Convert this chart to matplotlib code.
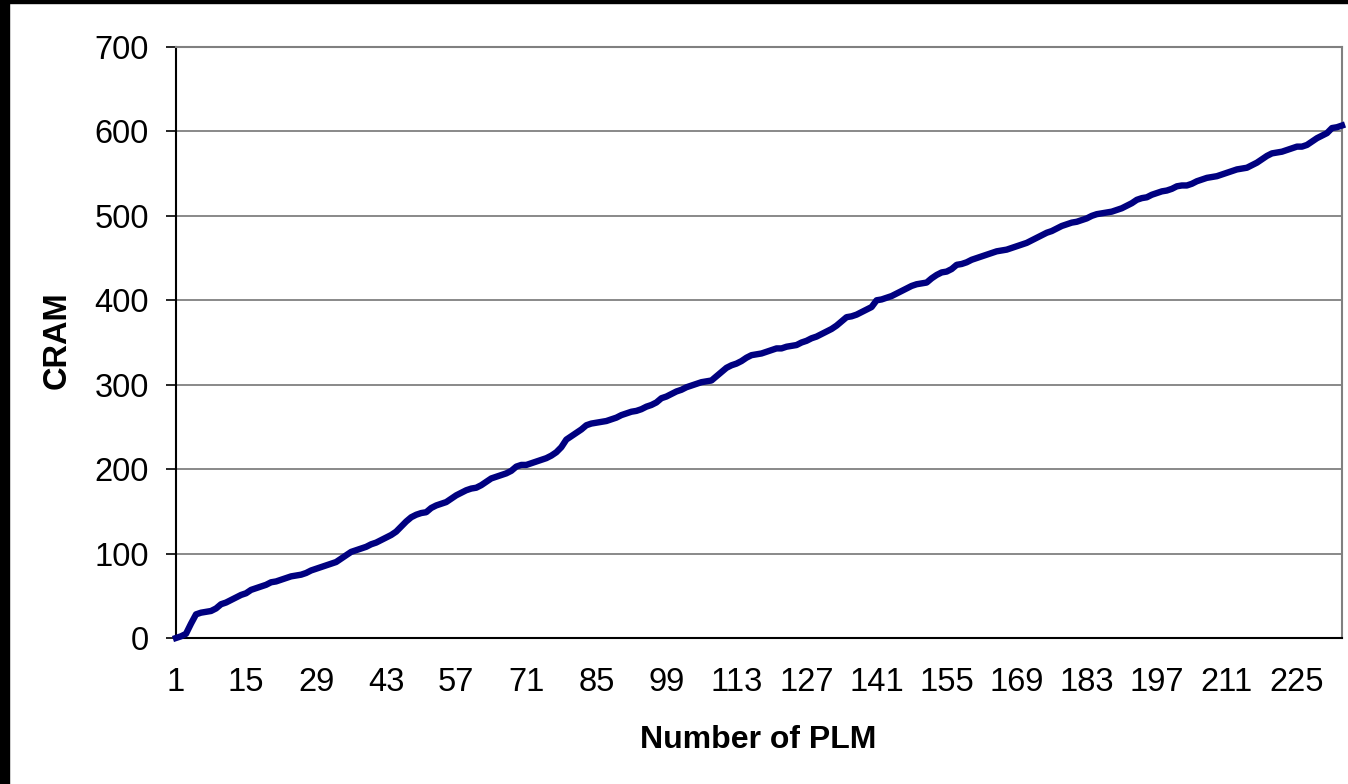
import matplotlib.pyplot as plt
from matplotlib.patches import Rectangle

plt.rcParams['font.family'] = ['Liberation Sans', 'DejaVu Sans']

# CRAM per PLM count
cram = [
    0, 2, 5, 17, 28, 30, 31, 32, 35, 40,
    42, 45, 48, 51, 53, 57, 59, 61, 63, 66,
    67, 69, 71, 73, 74, 75, 77, 80, 82, 84,
    86, 88, 90, 94, 98, 102, 104, 106, 108, 111,
    113, 116, 119, 122, 126, 132, 138, 143, 146, 148,
    149, 154, 157, 159, 161, 165, 169, 172, 175, 177,
    178, 181, 185, 189, 191, 193, 195, 198, 203, 205,
    205, 207, 209, 211, 213, 216, 220, 226, 235, 239,
    243, 247, 252, 254, 255, 256, 257, 259, 261, 264,
    266, 268, 269, 271, 274, 276, 279, 284, 286, 289,
    292, 294, 297, 299, 301, 303, 304, 305, 310, 315,
    320, 323, 325, 328, 332, 335, 336, 337, 339, 341,
    343, 343, 345, 346, 347, 350, 352, 355, 357, 360,
    363, 366, 370, 375, 380, 381, 383, 386, 389, 392,
    400, 401, 403, 405, 408, 411, 414, 417, 419, 420,
    421, 426, 430, 433, 434, 437, 442, 443, 445, 448,
    450, 452, 454, 456, 458, 459, 460, 462, 464, 466,
    468, 471, 474, 477, 480, 482, 485, 488, 490, 492,
    493, 495, 497, 500, 502, 503, 504, 505, 507, 509,
    512, 515, 519, 521, 522, 525, 527, 529, 530, 532,
    535, 536, 536, 538, 541, 543, 545, 546, 547, 549,
    551, 553, 555, 556, 557, 560, 563, 567, 571, 574,
    575, 576, 578, 580, 582, 582, 584, 588, 592, 595,
    598, 604, 605, 607,
]
plm = list(range(1, len(cram) + 1))
xticks = list(range(1, len(cram) + 1, 14))
yticks = [0, 100, 200, 300, 400, 500, 600, 700]

W, H = 1348, 784
fig = plt.figure(figsize=(W / 100, H / 100), dpi=100)
fig.patch.set_facecolor('white')

ax = fig.add_axes([176 / W, (H - 638) / H, (1342 - 176) / W, (638 - 47) / H])
ax.plot(plm, cram, color='#000080', lw=4.6, solid_joinstyle='round', clip_on=False, zorder=3)

ax.set_xlim(1, len(cram))
ax.set_ylim(0, 700)
ax.set_xticks(xticks)
ax.set_yticks(yticks)
ax.yaxis.grid(True, color='#808080', lw=1.3)
ax.set_axisbelow(True)

ax.tick_params(axis='x', length=0, pad=21, labelsize=23.5)
ax.tick_params(axis='y', length=7.5, width=1.2, pad=12, labelsize=23.5, color='black')

for s in ['top', 'right']:
    ax.spines[s].set_color('#808080')
    ax.spines[s].set_linewidth(1.5)
for s in ['left', 'bottom']:
    ax.spines[s].set_color('black')
    ax.spines[s].set_linewidth(1.5)

fig.text(758 / W, 1 - 740 / H, 'Number of PLM', ha='center', va='center',
         fontsize=23, fontweight='bold')
fig.text(57 / W, 1 - 340 / H, 'CRAM', ha='center', va='center', rotation=90,
         fontsize=23.5, fontweight='bold')

# black frame edges on left and top
fig.patches.append(Rectangle((0, 0), 9 / W, 1, transform=fig.transFigure,
                             color='black', zorder=10))
fig.patches.append(Rectangle((0, 1 - 2.5 / H), 1, 2.5 / H, transform=fig.transFigure,
                             color='black', zorder=10))

fig.savefig('out.png', dpi=100)
